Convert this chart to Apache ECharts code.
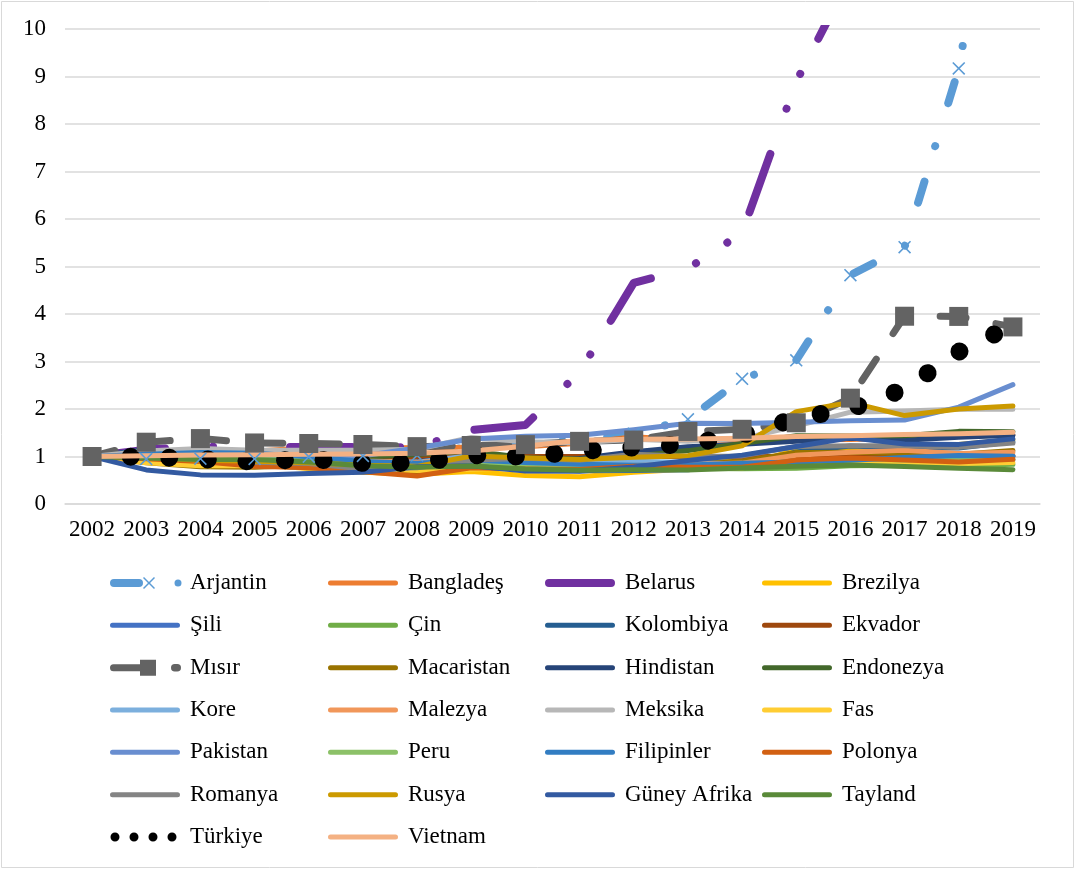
<!DOCTYPE html>
<html>
<head>
<meta charset="utf-8">
<script src="https://cdn.jsdelivr.net/npm/echarts@6/dist/echarts.min.js"></script>
<style>
  html, body { margin: 0; padding: 0; background: #ffffff; }
  #chart { width: 1076px; height: 870px; }
</style>
</head>
<body>
<div id="chart"></div>
<script>
// Exchange rate index (national currency per USD, 2002 = 1)
const years = ['2002','2003','2004','2005','2006','2007','2008','2009','2010','2011','2012','2013','2014','2015','2016','2017','2018','2019'];
const yTicks = [0, 10, 1]; // min, max, step

const arjantin   = [1, 0.947, 0.954, 0.948, 0.997, 1.011, 1.026, 1.211, 1.272, 1.342, 1.481, 1.782, 2.636, 3.026, 4.818, 5.407, 9.171, 15.72];
const banglades  = [1, 1.005, 1.028, 1.111, 1.191, 1.190, 1.185, 1.193, 1.203, 1.281, 1.414, 1.349, 1.341, 1.347, 1.356, 1.390, 1.442, 1.459];
const belarus    = [1, 1.145, 1.206, 1.203, 1.198, 1.198, 1.193, 1.558, 1.663, 2.778, 4.655, 4.958, 5.709, 8.893, 11.11, 10.79, 11.38, 11.68];
const brezilya   = [1, 1.054, 1.002, 0.834, 0.745, 0.667, 0.628, 0.685, 0.602, 0.573, 0.669, 0.738, 0.806, 1.141, 1.195, 1.093, 1.251, 1.351];
const sili       = [1, 1.004, 0.885, 0.813, 0.770, 0.758, 0.758, 0.814, 0.741, 0.702, 0.706, 0.719, 0.828, 0.949, 0.983, 0.942, 0.931, 1.020];
const cin        = [1, 1.000, 1.000, 0.990, 0.963, 0.919, 0.840, 0.825, 0.818, 0.781, 0.763, 0.749, 0.742, 0.752, 0.803, 0.817, 0.799, 0.835];
const kolombiya  = [1, 1.149, 1.050, 0.927, 0.943, 0.830, 0.786, 0.862, 0.758, 0.738, 0.718, 0.746, 0.799, 1.095, 1.220, 1.179, 1.180, 1.310];
const ekvador    = [1, 1, 1, 1, 1, 1, 1, 1, 1, 1, 1, 1, 1, 1, 1, 1, 1, 1];
const misir      = [1, 1.301, 1.377, 1.285, 1.274, 1.253, 1.208, 1.232, 1.250, 1.319, 1.346, 1.527, 1.573, 1.710, 2.228, 3.953, 3.949, 3.728];
const macaristan = [1, 0.870, 0.786, 0.774, 0.816, 0.712, 0.667, 0.785, 0.806, 0.780, 0.873, 0.867, 0.902, 1.083, 1.092, 1.064, 1.048, 1.127];
const hindistan  = [1, 0.958, 0.932, 0.907, 0.932, 0.851, 0.895, 0.996, 0.941, 0.960, 1.099, 1.206, 1.256, 1.320, 1.382, 1.340, 1.407, 1.449];
const endonezya  = [1, 0.921, 0.960, 1.042, 0.984, 0.982, 1.042, 1.116, 0.976, 0.942, 1.008, 1.124, 1.274, 1.438, 1.429, 1.437, 1.529, 1.520];
const kore       = [1, 0.952, 0.915, 0.819, 0.763, 0.743, 0.881, 1.021, 0.924, 0.886, 0.900, 0.875, 0.842, 0.904, 0.928, 0.904, 0.879, 0.931];
const malezya    = [1, 1.000, 1.000, 0.997, 0.965, 0.905, 0.878, 0.927, 0.848, 0.805, 0.813, 0.829, 0.861, 1.028, 1.092, 1.132, 1.062, 1.090];
const meksika    = [1, 1.117, 1.169, 1.129, 1.129, 1.132, 1.153, 1.399, 1.309, 1.287, 1.364, 1.323, 1.377, 1.641, 1.933, 1.960, 1.993, 1.995];
const fas        = [1, 0.869, 0.805, 0.804, 0.798, 0.743, 0.703, 0.731, 0.764, 0.734, 0.783, 0.763, 0.763, 0.885, 0.890, 0.879, 0.852, 0.873];
const pakistan   = [1, 0.967, 0.976, 0.997, 1.009, 1.017, 1.179, 1.368, 1.427, 1.446, 1.563, 1.702, 1.693, 1.721, 1.754, 1.766, 2.040, 2.512];
const peru       = [1, 0.989, 0.970, 0.937, 0.931, 0.889, 0.832, 0.856, 0.803, 0.783, 0.750, 0.768, 0.807, 0.906, 0.960, 0.927, 0.935, 0.949];
const filipinler = [1, 1.050, 1.086, 1.068, 0.994, 0.894, 0.859, 0.924, 0.874, 0.839, 0.818, 0.823, 0.860, 0.882, 0.920, 0.977, 1.021, 1.004];
const polonya    = [1, 0.953, 0.897, 0.793, 0.761, 0.678, 0.590, 0.765, 0.739, 0.726, 0.797, 0.775, 0.773, 0.924, 0.967, 0.926, 0.885, 0.941];
const romanya    = [1, 1.004, 0.987, 0.881, 0.850, 0.737, 0.762, 0.922, 0.961, 0.922, 1.049, 1.007, 1.013, 1.212, 1.227, 1.226, 1.192, 1.282];
const rusya      = [1, 0.979, 0.919, 0.902, 0.867, 0.816, 0.793, 1.012, 0.969, 0.937, 0.984, 1.016, 1.224, 1.944, 2.139, 1.861, 1.999, 2.065];
const guneyAfrika= [1, 0.717, 0.613, 0.603, 0.642, 0.669, 0.784, 0.804, 0.695, 0.689, 0.779, 0.917, 1.029, 1.211, 1.396, 1.264, 1.255, 1.371];
const tayland    = [1, 0.966, 0.936, 0.936, 0.882, 0.804, 0.775, 0.798, 0.738, 0.710, 0.723, 0.715, 0.756, 0.797, 0.822, 0.790, 0.752, 0.723];
const turkiye    = [1, 0.996, 0.946, 0.892, 0.948, 0.865, 0.864, 1.028, 0.997, 1.111, 1.192, 1.264, 1.452, 1.805, 2.004, 2.421, 3.204, 3.764];
const vietnam    = [1, 1.015, 1.030, 1.038, 1.047, 1.054, 1.067, 1.117, 1.218, 1.342, 1.363, 1.370, 1.384, 1.420, 1.436, 1.464, 1.479, 1.509];

const FONT = 'Liberation Serif, Times New Roman, serif';

// ---- legend icon paths (75 x 18 box; the two tiny corner squares pin the box size) ----
const frame = 'M0,0h0.01v0.01h-0.01Z M74.99,17.99h0.01v0.01h-0.01Z ';
function bar(x0, x1, th) {
  const r = th / 2, y = 9 - r;
  return `M${x0 + r},${y} H${x1 - r} A${r},${r} 0 0 1 ${x1 - r},${y + th} H${x0 + r} A${r},${r} 0 0 1 ${x0 + r},${y} Z `;
}
function dot(cx, r) {
  return `M${cx - r},9 A${r},${r} 0 1 0 ${cx + r},9 A${r},${r} 0 1 0 ${cx - r},9 Z `;
}
function cross(cx, s) {
  const k = s / 14, x0 = cx - s / 2, y0 = 9 - s / 2;
  const pts = [[1.2,0],[7,5.8],[12.8,0],[14,1.2],[8.2,7],[14,12.8],[12.8,14],[7,8.2],[1.2,14],[0,12.8],[5.8,7],[0,1.2]];
  return 'M' + pts.map(p => `${(x0 + p[0] * k).toFixed(2)},${(y0 + p[1] * k).toFixed(2)}`).join(' L') + ' Z ';
}
function square(x, s) {
  return `M${x},${9 - s / 2} h${s} v${s} h${-s} Z `;
}
const iconLine = w => 'path://' + frame + bar(0, 70, w);
const iconArjantin = 'path://' + frame + bar(0, 33, 8) + cross(39, 12) + dot(68, 3.5);
const iconMisir = 'path://' + frame + bar(0, 34, 7) + square(30, 16) + bar(61, 71, 7.5);
const iconTurkiye = 'path://' + frame + dot(5, 4.5) + dot(24, 4.5) + dot(43, 4.5) + dot(62, 4.5);
const crossSymbol = 'path://M1.2,0L7,5.8L12.8,0L14,1.2L8.2,7L14,12.8L12.8,14L7,8.2L1.2,14L0,12.8L5.8,7L0,1.2Z';

// ---- series ----
function line(name, data, color, width, extra) {
  const s = {
    name: name, type: 'line', data: data, color: color,
    symbol: 'none', showAllSymbol: true, silent: true,
    lineStyle: { color: color, width: width || 5, cap: 'round', join: 'round' },
    itemStyle: { color: color },
    emphasis: { disabled: true }
  };
  if (extra) {
    if (extra.lineStyle) Object.assign(s.lineStyle, extra.lineStyle);
    for (const k in extra) if (k !== 'lineStyle') s[k] = extra[k];
  }
  return s;
}

const series = [
  line('Arjantin', arjantin, '#5B9BD5', 8, {
    lineStyle: { type: [22, 37, 0.01, 45], dashOffset: 3.7 },
    symbol: crossSymbol, symbolSize: 13
  }),
  line('Bangladeş', banglades, '#ED7D31'),
  line('Belarus', belarus, '#7030A0', 8, {
    lineStyle: { type: [62, 48, 0.01, 37.5, 0.01, 39.5], dashOffset: -11.5 }
  }),
  line('Brezilya', brezilya, '#FFC000'),
  line('Şili', sili, '#4472C4'),
  line('Çin', cin, '#70AD47'),
  line('Kolombiya', kolombiya, '#255E91'),
  line('Ekvador', ekvador, '#9E480E'),
  line('Mısır', misir, '#636363', 7, {
    lineStyle: { type: [26, 30.46], dashOffset: 2.46 },
    symbol: 'rect', symbolSize: 19
  }),
  line('Macaristan', macaristan, '#997300'),
  line('Hindistan', hindistan, '#264478'),
  line('Endonezya', endonezya, '#43682B'),
  line('Kore', kore, '#7CAFDD'),
  line('Malezya', malezya, '#F1975A'),
  line('Meksika', meksika, '#B7B7B7'),
  line('Fas', fas, '#FFCD33'),
  line('Pakistan', pakistan, '#698ED0'),
  line('Peru', peru, '#8CC168'),
  line('Filipinler', filipinler, '#327DC2'),
  line('Polonya', polonya, '#D26012'),
  line('Romanya', romanya, '#848484'),
  line('Rusya', rusya, '#CC9A00'),
  line('Güney Afrika', guneyAfrika, '#335AA1'),
  line('Tayland', tayland, '#5A8A39'),
  line('Türkiye', turkiye, '#000000', 18, {
    lineStyle: { type: [0.01, 38.6], dashOffset: 0 }
  }),
  line('Vietnam', vietnam, '#F4B183')
];

// ---- legend: four columns, seven rows ----
const legendColumns = [
  ['Arjantin', 'Şili', 'Mısır', 'Kore', 'Pakistan', 'Romanya', 'Türkiye'],
  ['Bangladeş', 'Çin', 'Macaristan', 'Malezya', 'Peru', 'Rusya', 'Vietnam'],
  ['Belarus', 'Kolombiya', 'Hindistan', 'Meksika', 'Filipinler', 'Güney Afrika'],
  ['Brezilya', 'Ekvador', 'Endonezya', 'Fas', 'Polonya', 'Tayland']
];
const specialIcons = { 'Arjantin': iconArjantin, 'Mısır': iconMisir, 'Türkiye': iconTurkiye, 'Belarus': iconLine(8) };
const columnLeft = [110, 328, 545, 762];

const legends = legendColumns.map((names, i) => ({
  orient: 'vertical',
  left: columnLeft[i],
  top: 571,
  padding: 0,
  itemWidth: 75,
  itemHeight: 18,
  itemGap: 18.33,
  selectedMode: false,
  itemStyle: { borderWidth: 0 },
  textStyle: { fontFamily: FONT, fontSize: 23, lineHeight: 24, color: '#000000' },
  data: names.map(n => ({ name: n, icon: specialIcons[n] || iconLine(5) }))
}));

const chart = echarts.init(document.getElementById('chart'), null, { renderer: 'canvas' });
chart.setOption({
  animation: false,
  backgroundColor: '#ffffff',
  textStyle: { fontFamily: FONT },
  graphic: [{
    type: 'rect', silent: true, z: -10,
    shape: { x: 1.5, y: 1.5, width: 1072, height: 866 },
    style: { fill: 'none', stroke: '#d9d9d9', lineWidth: 1 }
  }],
  grid: { left: 65, right: 36, top: 29, bottom: 366 },
  xAxis: {
    type: 'category',
    data: years,
    boundaryGap: true,
    axisLine: { show: true, lineStyle: { color: '#d9d9d9', width: 1.5 } },
    axisTick: { show: false },
    splitLine: { show: false },
    axisLabel: { interval: 0, margin: 14, fontFamily: FONT, fontSize: 23, color: '#000000' }
  },
  yAxis: {
    type: 'value',
    min: yTicks[0], max: yTicks[1], interval: yTicks[2],
    axisLine: { show: false },
    axisTick: { show: false },
    splitLine: { show: true, lineStyle: { color: '#d9d9d9', width: 1.5 } },
    axisLabel: { margin: 19, fontFamily: FONT, fontSize: 23, color: '#000000' }
  },
  legend: legends,
  series: series
});
</script>
</body>
</html>
